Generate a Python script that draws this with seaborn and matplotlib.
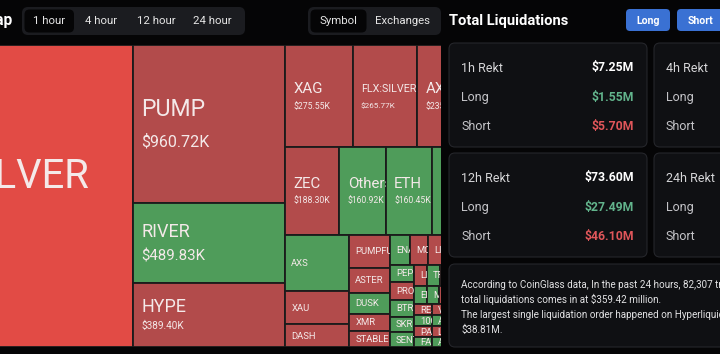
import matplotlib
matplotlib.use("Agg")
import numpy as np
import pandas as pd
import matplotlib.pyplot as plt
import seaborn as sns
from matplotlib.patches import Rectangle, FancyBboxPatch

sns.set_theme(style="dark")
plt.rcParams['font.family'] = ['Roboto', 'DejaVu Sans']

# ---------------- data ----------------
symbols = ["SILVER", "PUMP", "RIVER", "HYPE", "XAG", "FLX:SILVER", "AXL", "ZEC",
           "Others", "ETH", "SOL", "AXS", "XAU", "DASH", "PUMPFUN", "ASTER", "DUSK",
           "XMR", "STABLE", "ENA", "MON", "LINK", "BTC", "DOGE", "PEPE", "PROMPT",
           "BTR", "SKR", "SENT", "LIGHT", "TRUMP", "SUI", "XRP", "WLD", "ENSO", "MET",
           "BNB", "TAO", "ADA", "RESOLV", "1000BONK", "PAXG", "FARTCOIN", "VIRTUAL",
           "AAVE", "LTC", "AVAX", "NEAR", "APT", "ONDO", "WIF", "TIA", "INJ", "SEI",
           "ARB", "OP"]
values_k = [2680.0, 960.72, 489.83, 389.40, 275.55, 265.77, 235.10, 188.30,
            160.92, 160.45, 150.2, 144.0, 86.0, 58.0, 54.0, 41.0, 34.0,
            28.0, 26.0, 24.0, 22.0, 19.0, 18.4, 18.0, 17.0, 16.5,
            16.0, 15.0, 14.0, 11.2, 10.8, 10.5, 10.1, 9.6, 9.4, 9.1,
            8.7, 8.6, 8.2, 7.9, 7.8, 7.4, 7.2, 7.1,
            6.8, 6.5, 6.4, 6.1, 5.9, 5.8, 5.4, 5.3, 5.0, 4.8,
            4.7, 4.3]
direction = ["S", "S", "L", "S", "S", "S", "S", "S",
             "L", "L", "L", "L", "S", "S", "S", "S", "L",
             "S", "S", "L", "S", "S", "L", "S", "L", "S",
             "L", "L", "L", "S", "L", "S", "L", "S", "L", "L",
             "S", "L", "S", "S", "L", "S", "L", "S",
             "L", "S", "L", "S", "L", "S", "L", "S", "L", "S",
             "L", "S"]

time_tabs = ["1 hour", "4 hour", "12 hour", "24 hour"]
group_tabs = ["Symbol", "Exchanges"]
rekt_periods = ["1h Rekt", "4h Rekt", "12h Rekt", "24h Rekt"]
rekt_total = ["$7.25M", None, "$73.60M", None]
rekt_long = ["$1.55M", None, "$27.49M", None]
rekt_short = ["$5.70M", None, "$46.10M", None]
summary_lines = [
    "According to CoinGlass data, In the past 24 hours, 82,307 traders were liquidated, the",
    "total liquidations comes in at $359.42 million.",
    "The largest single liquidation order happened on Hyperliquid",
    "$38.81M.",
]

df = pd.DataFrame({"symbol": symbols, "value": values_k, "dir": direction})
df = df.sort_values("value", ascending=False).reset_index(drop=True)

# ---------------- squarified treemap (ECharts style) ----------------
def squarify_layout(areas, x, y, w, h, ratio=(1 + 5 ** 0.5) / 2):
    rect = [x, y, w, h]
    out = [None] * len(areas)

    def worst(idx, r_area, fixed):
        amax = max(areas[j] for j in idx)
        amin = min(areas[j] for j in idx)
        sq = r_area ** 2
        f = fixed * fixed * ratio
        return max(f * amax / sq, sq / (f * amin))

    def position(idx, r_area, fixed, flush):
        horizontal = fixed == rect[2]
        other = r_area / fixed if fixed else 0
        if horizontal:
            if flush or other > rect[3]:
                other = rect[3]
            last = rect[0]
            for n, j in enumerate(idx):
                step = areas[j] / other
                remain = rect[0] + rect[2] - last
                wj = remain if (n == len(idx) - 1 or remain < step) else step
                out[j] = (last, rect[1], wj, other)
                last += wj
            rect[1] += other
            rect[3] -= other
        else:
            if flush or other > rect[2]:
                other = rect[2]
            last = rect[1]
            for n, j in enumerate(idx):
                step = areas[j] / other
                remain = rect[1] + rect[3] - last
                hj = remain if (n == len(idx) - 1 or remain < step) else step
                out[j] = (rect[0], last, other, hj)
                last += hj
            rect[0] += other
            rect[2] -= other

    row, row_area, best = [], 0.0, np.inf
    fixed = min(rect[2], rect[3])
    i = 0
    while i < len(areas):
        row.append(i)
        row_area += areas[i]
        score = worst(row, row_area, fixed)
        if score <= best:
            i += 1
            best = score
        else:
            row.pop()
            row_area -= areas[i]
            position(row, row_area, fixed, False)
            fixed = min(rect[2], rect[3])
            row, row_area, best = [], 0.0, np.inf
    if row:
        position(row, row_area, fixed, True)
    return out

PX_PER_K = 25.0          # pixel area per $1K
TM_H = 302.0             # treemap height in px
total = df["value"].sum()
TM_W = total * PX_PER_K / TM_H
areas = list(df["value"] * PX_PER_K)
rects = squarify_layout(areas, 0.0, 0.0, TM_W, TM_H)

# ---------------- figure ----------------
BG = "#050506"
fig = plt.figure(figsize=(7.2, 3.54), dpi=100, facecolor=BG)

ui = fig.add_axes([0, 0, 1, 1])
ui.set_xlim(0, 720)
ui.set_ylim(354, 0)
ui.set_axis_off()

VIEW_W = 441.0
TOP, BOT = 45.0, 347.0
tm = fig.add_axes([0, (354 - BOT) / 354, VIEW_W / 720, (BOT - TOP) / 354])
silver_w = rects[0][2]
view_left = silver_w - 133.0
tm.set_xlim(view_left, view_left + VIEW_W)
tm.set_ylim(TM_H, 0)
tm.set_axis_off()

RED, GREEN, BRIGHT = "#b24b4b", "#4f9c5a", "#e24b45"
tiers = [(15000, 23, 16, 32), (11000, 18, 15, 25), (8000, 18, 10, 19), (3750, 15, 8.6, 17)]

def clip_text(t, x, y, w, h):
    x0 = max(x, view_left)
    x1 = min(x + w, view_left + VIEW_W)
    cp = Rectangle((x0, y), max(x1 - x0, 0), h, transform=tm.transData,
                   facecolor="none", edgecolor="none")
    t.set_clip_on(True)
    t.set_clip_path(cp)

for k, row in df.iterrows():
    x, y, w, h = rects[k]
    area = w * h
    share = row["value"] / total
    if row["dir"] == "S":
        col = BRIGHT if share > 0.3 else RED
    else:
        col = GREEN
    rp = Rectangle((x, y), w, h, facecolor=col, edgecolor="#1b1b1b", lw=1.3)
    tm.add_patch(rp)
    name = row["symbol"]
    tc = "#f4e9e9"
    if area > 50000:
        t = tm.text(x + w / 2 + 3, y + h / 2 - 19, name, ha="center", va="center",
                    fontsize=40 * 0.72, color=tc)
        clip_text(t, x, y, w, h)
        continue
    tier = None
    for th, npx, vpx, gap in tiers:
        if area >= th:
            tier = (npx, vpx, gap)
            break
    if tier is not None:
        npx, vpx, gap = tier
        if len(name) > 7:
            npx *= 0.72
            vpx *= 0.95
        cy = y + h / 2 + 1.5
        t1 = tm.text(x + 8.5, cy - gap / 2, name, ha="left", va="center",
                     fontsize=npx * 0.72, color=tc)
        t2 = tm.text(x + 8.5, cy + gap / 2, f"${row['value']:.2f}K", ha="left",
                     va="center", fontsize=vpx * 0.72, color=tc)
        clip_text(t1, x, y, w, h)
        clip_text(t2, x, y, w, h)
    else:
        t = tm.text(x + 6, y + h / 2 + 0.5, name, ha="left", va="center",
                    fontsize=9.5 * 0.72, color=tc)
        clip_text(t, x, y, w, h)

# ---------------- UI chrome ----------------
def rbox(x, y, w, h, r, fc, ec="none", lw=0.0):
    p = FancyBboxPatch((x, y), w, h, boxstyle=f"round,pad=0,rounding_size={r}",
                       facecolor=fc, edgecolor=ec, lw=lw)
    ui.add_patch(p)
    return p

ui.text(12.5, 21, "Liquidation Heatmap", ha="right", va="center", fontsize=11.2,
        weight="bold", color="white")

rbox(22, 7, 223, 28, 6, "#1b1c20")
rbox(24.5, 9.5, 49.5, 23, 5, "#050506")
for lab, cx in zip(time_tabs, [49, 101, 156, 212]):
    ui.text(cx, 21.5, lab, ha="center", va="center", fontsize=8.2, color="#e6e6e6")

rbox(308, 7, 133, 28, 6, "#1b1c20")
rbox(310.5, 9.5, 56, 23, 5, "#050506")
for lab, cx in zip(group_tabs, [338, 403]):
    ui.text(cx, 21.5, lab, ha="center", va="center", fontsize=8.2, color="#e6e6e6")

ui.text(449, 20.5, "Total Liquidations", ha="left", va="center", fontsize=10.6,
        weight="bold", color="white")
rbox(626, 9, 44, 22, 4, "#3a71d3")
ui.text(648, 20.5, "Long", ha="center", va="center", fontsize=7.6, weight="bold", color="white")
rbox(677, 9, 48, 22, 4, "#3a71d3")
ui.text(700, 20.5, "Short", ha="center", va="center", fontsize=7.6, weight="bold", color="white")

CARD_FC, CARD_EC = "#0f1013", "#25262b"
card_pos = [(449, 43), (654, 43), (449, 153), (654, 153)]
for (cx, cy), per, tot, lg, sh in zip(card_pos, rekt_periods, rekt_total, rekt_long, rekt_short):
    rbox(cx, cy, 198, 104, 6, CARD_FC, CARD_EC, 0.8)
    ui.text(cx + 12, cy + 25, per, ha="left", va="center", fontsize=9.0, color="#d6d6d8")
    ui.text(cx + 12, cy + 54.5, "Long", ha="left", va="center", fontsize=9.0, color="#c4c4c8")
    ui.text(cx + 12, cy + 83.5, "Short", ha="left", va="center", fontsize=9.0, color="#c4c4c8")
    if tot is not None:
        ui.text(cx + 185, cy + 25, tot, ha="right", va="center", fontsize=8.8,
                weight="bold", color="white")
        ui.text(cx + 185, cy + 54.5, lg, ha="right", va="center", fontsize=8.8,
                weight="bold", color="#62b48c")
        ui.text(cx + 185, cy + 83.5, sh, ha="right", va="center", fontsize=8.8,
                weight="bold", color="#e0565a")

rbox(449, 264, 290, 83, 6, CARD_FC, CARD_EC, 0.8)
for i, line in enumerate(summary_lines):
    ui.text(461, 284.5 + 15 * i, line, ha="left", va="center", fontsize=7.1,
            color="#e2e2e4")

fig.savefig("out.png", dpi=100, facecolor=BG)
